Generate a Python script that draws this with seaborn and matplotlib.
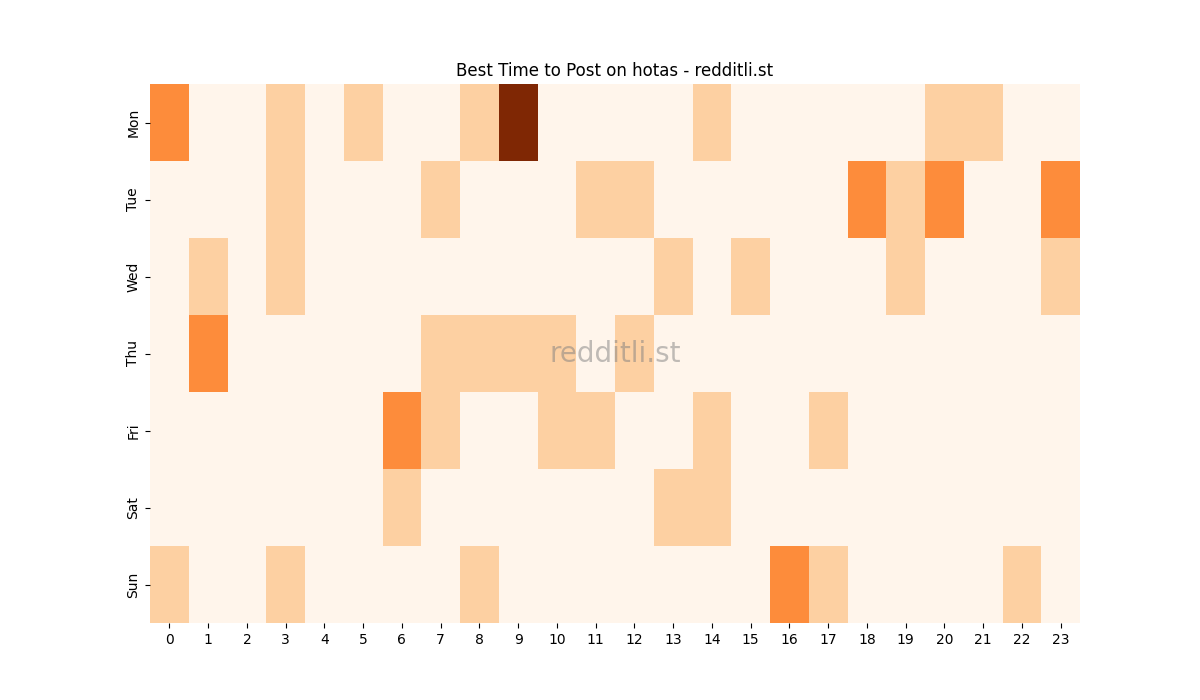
import pandas as pd
import matplotlib.pyplot as plt
import seaborn as sns
import numpy as np

# Post counts by weekday / hour
days = ["Mon", "Tue", "Wed", "Thu", "Fri", "Sat", "Sun"]
hours = list(range(24))

mon = [2, 0, 0, 1, 0, 1, 0, 0, 1, 4, 0, 0, 0, 0, 1, 0, 0, 0, 0, 0, 1, 1, 0, 0]
tue = [0, 0, 0, 1, 0, 0, 0, 1, 0, 0, 0, 1, 1, 0, 0, 0, 0, 0, 2, 1, 2, 0, 0, 2]
wed = [0, 1, 0, 1, 0, 0, 0, 0, 0, 0, 0, 0, 0, 1, 0, 1, 0, 0, 0, 1, 0, 0, 0, 1]
thu = [0, 2, 0, 0, 0, 0, 0, 1, 1, 1, 1, 0, 1, 0, 0, 0, 0, 0, 0, 0, 0, 0, 0, 0]
fri = [0, 0, 0, 0, 0, 0, 2, 1, 0, 0, 1, 1, 0, 0, 1, 0, 0, 1, 0, 0, 0, 0, 0, 0]
sat = [0, 0, 0, 0, 0, 0, 1, 0, 0, 0, 0, 0, 0, 1, 1, 0, 0, 0, 0, 0, 0, 0, 0, 0]
sun = [1, 0, 0, 1, 0, 0, 0, 0, 1, 0, 0, 0, 0, 0, 0, 0, 2, 1, 0, 0, 0, 0, 1, 0]

df = pd.DataFrame([mon, tue, wed, thu, fri, sat, sun], index=days, columns=hours)

fig = plt.figure(figsize=(12, 7), dpi=100)
ax = sns.heatmap(df, cmap="Oranges", cbar=False)
ax.set_title("Best Time to Post on hotas - redditli.st")
ax.set_xlabel("")
ax.set_ylabel("")

# watermark
ax.text(0.5, 0.5, "redditli.st", transform=ax.transAxes, ha="center", va="center",
        fontsize=20, color="gray", alpha=0.5)

plt.savefig("out.png", dpi=100)
plt.close()
